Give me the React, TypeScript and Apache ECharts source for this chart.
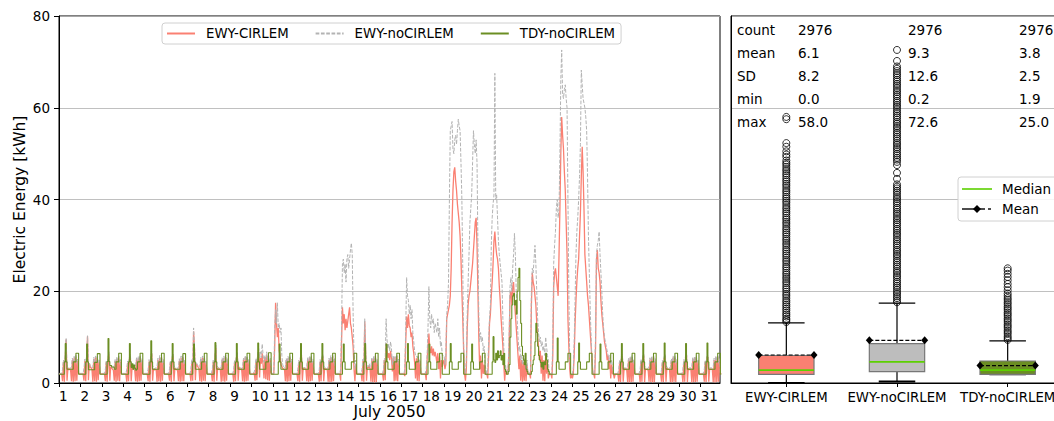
import React, { useEffect, useRef } from "react";
import * as echarts from "echarts";

const dayLabels = ["1","2","3","4","5","6","7","8","9","10","11","12","13","14","15","16","17","18","19","20","21","22","23","24","25","26","27","28","29","30","31"];
const seriesNames = ["EWY-CIRLEM", "EWY-noCIRLEM", "TDY-noCIRLEM"];
const lineColors = ["#FA8072", "#b3b3b3", "#6B8E23"];
const boxColors = ["#FA8072", "#BDBDBD", "#6B8E23"];

// hourly values, one row per day of July 2050 (kWh)
const ewyCirlem: number[][] = [
  [2.0,2.0,2.0,2.0,0.4,4.6,0.3,5.4,9.5,0.5,3.2,2.9,3.1,2.8,0.4,5.0,0.3,5.5,0.4,5.6,0.5,4.8,2.1,2.0],
  [2.0,2.0,2.0,2.0,0.5,4.8,0.4,5.6,10.2,0.6,4.2,3.5,3.3,2.9,0.3,5.2,0.4,5.6,0.3,5.4,0.6,4.6,2.0,2.0],
  [2.0,2.0,2.0,2.0,0.4,4.5,0.3,5.2,6.2,0.5,3.6,3.3,3.0,2.8,0.5,4.8,0.3,5.3,0.5,5.5,0.4,4.7,2.1,2.0],
  [2.0,2.0,2.0,2.0,0.3,4.4,0.4,5.3,5.8,0.4,3.4,3.0,3.2,2.7,0.4,5.1,0.3,5.4,0.4,5.7,0.5,4.9,2.0,2.0],
  [2.0,2.0,2.0,2.0,0.4,4.7,0.3,5.5,6.4,0.5,3.1,2.8,3.0,2.9,0.3,5.0,0.4,5.6,0.3,5.5,0.5,4.8,2.1,2.0],
  [2.0,2.0,2.0,2.0,0.5,4.5,0.3,5.4,6.0,0.4,3.2,3.0,2.9,2.8,0.4,4.9,0.3,5.5,0.4,5.6,0.4,4.7,2.0,2.0],
  [2.0,2.0,2.0,2.0,0.4,4.8,0.5,11.2,7.5,0.6,4.2,3.8,3.5,3.1,0.4,5.2,0.3,5.5,0.5,5.4,0.4,4.6,2.1,2.0],
  [2.0,2.0,2.0,2.0,0.4,4.6,0.3,5.6,7.6,0.5,3.3,3.0,3.1,2.9,0.3,5.1,0.4,5.5,0.3,5.7,0.5,4.9,2.0,2.0],
  [2.0,2.0,2.0,2.0,0.3,4.5,0.4,5.4,6.3,0.5,3.4,3.1,3.0,2.8,0.4,5.0,0.3,5.6,0.4,5.5,0.5,4.8,2.1,2.0],
  [2.0,2.0,2.0,2.2,0.5,4.9,0.6,5.8,6.8,1.2,5.5,4.2,6.5,3.8,1.0,5.6,0.8,6.2,0.6,5.8,0.5,5.0,2.2,2.0],
  [2.0,2.0,8.0,17.5,13.0,10.0,12.0,7.0,6.0,4.0,3.6,3.2,3.0,2.9,0.4,5.0,0.3,5.4,0.4,5.6,0.5,4.8,2.1,2.0],
  [2.0,2.0,2.0,2.0,0.4,4.6,0.3,5.5,6.0,0.5,3.3,3.0,3.1,2.9,0.4,5.1,0.3,5.5,0.4,5.6,0.5,4.8,2.1,2.0],
  [2.0,2.0,2.0,2.0,0.3,4.7,0.4,5.3,5.8,0.4,3.2,3.0,3.0,2.8,0.3,5.0,0.2,5.6,0.3,5.8,0.4,4.9,2.0,2.0],
  [2.0,2.0,2.0,2.0,0.5,9.0,16.5,13.0,15.0,11.5,14.0,12.0,13.5,15.0,16.5,13.0,12.0,10.0,7.9,3.0,0.4,4.0,2.0,2.0],
  [2.0,2.0,2.0,2.0,0.4,4.8,0.3,13.4,6.5,0.5,3.5,3.2,3.8,3.0,0.3,5.2,0.2,5.4,0.1,5.8,0.2,4.9,2.0,2.0],
  [2.0,2.0,2.0,2.0,0.5,5.0,0.6,8.6,7.0,5.5,6.5,5.0,7.0,5.5,2.5,5.5,0.4,5.6,0.5,5.8,0.4,4.8,2.0,2.0],
  [2.0,2.0,2.0,2.0,1.5,9.0,14.5,12.0,15.0,12.5,12.0,10.0,11.0,8.0,6.5,4.4,1.0,5.4,0.5,5.6,0.4,4.8,2.1,2.0],
  [2.0,2.0,2.0,2.0,0.6,5.0,8.0,10.8,7.5,6.5,8.0,6.0,7.5,5.8,6.8,5.7,4.4,6.5,3.0,5.8,1.0,5.0,3.5,4.5],
  [5.0,3.0,4.0,14.0,15.0,16.0,17.0,19.0,25.0,35.0,42.0,46.0,47.0,44.0,42.0,39.0,37.0,35.0,32.0,27.0,20.0,14.0,7.0,2.0],
  [0.5,3.0,12.0,17.0,19.0,20.0,22.0,24.0,26.0,29.0,32.0,35.0,36.0,30.0,20.0,10.0,3.0,6.0,1.0,5.0,2.0,4.0,2.0,2.0],
  [2.0,1.0,6.0,13.0,15.0,19.0,22.0,26.0,31.0,33.0,30.0,28.0,27.0,25.0,21.0,18.0,14.0,11.0,8.0,4.0,0.5,3.0,2.0,2.0],
  [3.0,8.0,19.0,20.0,17.0,21.0,22.0,18.0,15.0,12.0,9.0,6.0,3.0,6.0,0.5,5.0,0.3,4.5,0.5,5.0,0.4,4.0,2.0,2.0],
  [2.0,1.0,17.0,24.0,22.0,21.0,19.0,17.0,13.0,10.0,8.0,5.0,7.0,2.0,6.0,0.5,5.0,0.4,6.0,2.0,5.0,1.0,2.0,2.0],
  [2.0,1.0,6.0,21.0,24.0,25.0,23.0,21.0,19.0,28.0,38.0,50.0,58.0,54.0,51.0,46.0,42.0,35.0,28.0,14.0,8.0,3.0,1.0,2.0],
  [1.0,2.0,6.0,13.0,18.0,22.0,25.0,27.0,32.0,37.0,45.0,51.5,46.0,38.0,28.0,25.0,22.0,19.0,17.0,14.0,11.0,8.0,5.0,2.0],
  [2.0,1.0,8.0,27.0,29.0,25.0,24.0,22.0,18.0,15.0,13.0,11.0,9.0,8.0,7.0,5.0,6.0,3.0,5.0,1.0,4.0,2.0,2.0,1.0],
  [2.0,2.0,2.0,2.0,0.3,4.6,0.2,5.4,5.8,0.3,3.2,2.9,3.1,2.8,0.2,5.0,0.1,5.5,0.2,5.6,0.3,4.8,2.1,2.0],
  [2.0,2.0,2.0,2.0,0.2,4.8,0.3,5.5,6.0,0.2,3.1,3.0,2.9,2.8,0.3,5.1,0.2,5.4,0.1,5.7,0.2,4.9,2.0,2.0],
  [2.0,2.0,2.0,2.0,0.3,4.5,0.2,5.3,5.9,0.3,3.3,3.0,3.0,2.9,0.2,4.9,0.1,5.6,0.3,5.5,0.2,4.7,2.1,2.0],
  [2.0,2.0,2.0,2.0,0.2,4.7,0.3,5.6,6.1,0.2,3.2,2.9,3.1,2.8,0.1,5.2,0.2,5.5,0.2,5.6,0.3,4.8,2.0,2.0],
  [2.0,2.0,2.0,2.0,0.3,4.6,0.2,5.4,5.7,0.3,3.1,3.0,3.0,2.9,0.2,5.0,0.1,5.6,0.2,5.7,0.3,4.9,2.1,2.0],
];

const ewyNoCirlem: number[][] = [
  [2.1,2.1,2.1,2.1,3.0,5.0,4.0,5.8,9.8,3.6,3.4,3.2,3.3,3.2,3.6,5.4,4.4,5.8,4.8,6.0,4.4,5.2,2.3,2.1],
  [2.1,2.1,2.1,2.1,3.1,5.2,4.2,6.0,10.3,3.8,4.5,3.8,3.5,3.3,3.5,5.6,4.5,5.9,4.6,5.8,4.5,5.0,2.2,2.1],
  [2.1,2.1,2.1,2.1,3.0,4.9,4.0,5.6,6.8,3.7,3.9,3.6,3.3,3.1,3.7,5.2,4.3,5.7,4.9,5.9,4.3,5.1,2.3,2.1],
  [2.1,2.1,2.1,2.1,2.9,4.8,4.1,5.7,6.3,3.6,3.7,3.3,3.5,3.0,3.6,5.5,4.4,5.8,4.7,6.1,4.5,5.3,2.2,2.1],
  [2.1,2.1,2.1,2.1,3.0,5.1,4.0,5.9,6.9,3.7,3.4,3.1,3.3,3.2,3.5,5.4,4.5,6.0,4.6,5.9,4.4,5.2,2.3,2.1],
  [2.1,2.1,2.1,2.1,3.1,4.9,4.0,5.8,6.5,3.5,3.5,3.3,3.2,3.1,3.6,5.3,4.3,5.9,4.7,6.0,4.3,5.1,2.2,2.1],
  [2.1,2.1,2.1,2.1,3.0,5.2,4.3,12.0,8.0,3.9,4.5,4.1,3.8,3.4,3.6,5.6,4.4,5.9,4.9,5.8,4.4,5.0,2.3,2.1],
  [2.1,2.1,2.1,2.1,3.0,5.0,4.0,6.0,8.2,3.7,3.6,3.3,3.4,3.2,3.5,5.5,4.5,5.9,4.6,6.1,4.5,5.3,2.2,2.1],
  [2.1,2.1,2.1,2.1,2.9,4.9,4.1,5.8,6.8,3.7,3.7,3.4,3.3,3.1,3.6,5.4,4.3,6.0,4.8,5.9,4.5,5.2,2.3,2.1],
  [2.1,2.1,2.1,2.4,3.2,5.4,4.5,6.5,7.5,5.5,6.8,5.5,8.5,6.0,4.5,6.0,5.0,6.8,5.0,6.4,4.6,5.4,2.4,2.1],
  [2.1,2.1,12.0,16.0,13.0,17.5,12.0,13.0,11.0,12.0,6.0,4.0,3.4,3.2,3.6,5.4,4.4,5.8,4.8,6.0,4.4,5.2,2.3,2.1],
  [2.1,2.1,2.1,2.1,3.0,5.0,4.0,5.9,6.5,3.6,3.6,3.3,3.4,3.2,3.6,5.5,4.4,5.9,4.8,6.0,4.4,5.2,2.3,2.1],
  [2.1,2.1,2.1,2.1,2.9,5.1,4.1,5.7,6.3,3.5,3.5,3.3,3.3,3.1,3.5,5.4,4.3,6.0,4.7,6.2,4.5,5.3,2.2,2.1],
  [2.1,2.1,2.1,2.1,3.0,12.0,26.0,27.0,24.0,26.0,22.0,27.0,28.0,25.0,27.0,29.0,30.5,28.0,15.0,6.0,3.0,5.0,2.3,2.1],
  [2.1,2.1,2.1,2.1,3.0,5.2,4.0,14.0,7.0,3.8,3.8,3.5,4.2,3.4,3.6,5.4,4.4,5.8,4.8,6.0,4.4,5.2,2.3,2.1],
  [2.1,2.1,2.1,2.1,3.0,5.4,5.0,14.0,9.4,7.5,8.5,7.0,9.0,7.5,4.0,6.0,4.4,5.8,4.8,6.0,4.4,5.2,2.3,2.1],
  [2.1,2.1,2.1,2.1,3.0,12.0,23.0,19.0,18.0,15.0,17.0,14.0,16.0,11.0,9.0,7.0,6.0,6.0,5.5,6.0,4.5,5.2,2.3,2.1],
  [2.1,2.1,2.1,2.1,3.0,6.0,12.0,21.0,14.0,12.0,15.0,13.0,14.0,11.0,13.0,12.0,11.0,14.0,10.0,12.0,8.0,9.0,6.0,6.0],
  [6.0,4.0,6.0,15.0,17.0,22.0,40.0,55.0,56.0,57.0,51.0,50.0,53.0,54.0,52.0,55.0,57.5,56.0,55.0,48.0,40.0,25.0,8.0,3.0],
  [2.0,5.0,15.0,22.0,28.0,35.0,38.0,41.0,48.0,55.0,52.0,50.0,53.0,48.0,30.0,15.0,9.0,11.0,9.0,10.0,7.0,8.0,4.0,3.0],
  [2.0,3.0,9.0,14.0,17.0,30.0,36.0,39.0,41.0,67.5,40.0,41.0,36.0,31.0,28.0,26.0,24.0,22.0,14.0,8.0,3.0,4.0,2.0,2.0],
  [4.0,10.0,21.0,23.0,20.0,25.0,28.0,32.6,28.0,20.0,14.0,10.0,7.0,8.0,5.0,6.0,4.0,5.5,4.0,6.0,3.0,5.0,2.5,2.0],
  [2.0,3.0,20.0,25.0,24.0,27.0,30.0,26.0,20.0,14.0,11.0,9.0,10.0,8.0,9.0,7.0,8.0,6.0,10.0,8.0,6.0,5.0,2.0,2.0],
  [2.0,2.0,9.0,26.0,30.0,33.0,38.0,40.0,36.0,38.0,50.0,66.0,72.6,63.0,62.0,64.0,65.0,62.0,60.0,40.0,20.0,5.0,2.0,2.0],
  [2.0,3.0,9.0,18.0,28.0,33.0,36.0,40.0,45.0,52.0,68.2,65.0,62.0,61.0,60.0,58.0,55.0,45.0,32.0,24.0,16.0,10.0,5.0,2.0],
  [2.0,3.0,10.0,28.0,30.0,31.0,33.0,28.0,24.0,20.0,15.0,12.0,10.0,9.0,8.0,7.0,6.0,5.0,6.0,4.0,5.0,3.0,2.0,2.0],
  [2.1,2.1,2.1,2.1,3.0,5.0,4.0,5.8,6.2,3.6,3.4,3.2,3.3,3.2,3.6,5.4,4.4,5.8,4.8,6.0,4.4,5.2,2.3,2.1],
  [2.1,2.1,2.1,2.1,3.1,5.2,4.1,5.9,6.4,3.5,3.5,3.3,3.2,3.2,3.5,5.5,4.3,5.7,4.6,6.1,4.4,5.3,2.2,2.1],
  [2.1,2.1,2.1,2.1,2.9,4.9,4.0,5.7,6.3,3.6,3.6,3.3,3.3,3.2,3.6,5.3,4.4,5.9,4.8,5.9,4.3,5.1,2.3,2.1],
  [2.1,2.1,2.1,2.1,3.0,5.1,4.2,6.0,6.5,3.5,3.5,3.2,3.4,3.1,3.5,5.6,4.5,5.8,4.7,6.0,4.5,5.2,2.2,2.1],
  [2.1,2.1,2.1,2.1,3.0,5.0,4.0,5.8,6.1,3.6,3.4,3.3,3.3,3.2,3.6,5.4,4.4,5.9,4.8,6.1,4.4,5.3,2.3,2.1],
];

const tdyNoCirlem: number[][] = [
  [1.9,1.9,1.9,1.9,1.9,1.9,4.6,8.6,4.6,3.0,3.0,3.0,3.0,3.0,3.0,3.0,4.6,4.6,4.6,6.5,6.5,6.5,1.9,1.9],
  [1.9,1.9,1.9,1.9,1.9,1.9,4.6,8.5,4.6,2.9,2.9,2.9,2.9,2.9,2.9,2.9,4.5,4.5,4.5,6.4,6.4,6.4,1.9,1.9],
  [1.9,1.9,1.9,1.9,1.9,1.9,4.7,9.7,4.7,3.8,3.8,3.5,3.5,3.5,3.0,3.0,4.6,4.6,4.6,6.5,6.5,6.5,1.9,1.9],
  [1.9,1.9,1.9,1.9,1.9,1.9,4.6,8.6,4.6,3.4,4.2,3.0,3.9,3.2,2.8,3.0,4.6,4.6,4.6,6.5,6.5,6.5,1.9,1.9],
  [1.9,1.9,1.9,1.9,1.9,1.9,4.6,9.2,4.6,3.0,3.0,3.0,3.0,3.0,3.0,3.0,4.6,4.6,4.6,6.5,6.5,6.5,1.9,1.9],
  [1.9,1.9,1.9,1.9,1.9,1.9,4.6,8.6,4.6,3.0,3.0,3.0,3.0,3.0,3.0,3.0,4.6,4.6,4.6,6.4,6.4,6.4,1.9,1.9],
  [1.9,1.9,1.9,1.9,1.9,1.9,4.6,8.5,4.6,3.0,3.0,3.0,3.0,3.0,3.0,3.0,4.6,4.6,4.6,6.5,6.5,6.5,1.9,1.9],
  [1.9,1.9,1.9,1.9,1.9,1.9,4.6,8.8,4.6,3.0,3.0,3.0,3.0,3.0,3.0,3.0,4.6,4.6,4.6,6.5,6.5,6.5,1.9,1.9],
  [1.9,1.9,1.9,1.9,1.9,1.9,4.6,8.6,4.6,3.0,3.0,3.0,3.0,3.0,3.0,3.0,4.6,4.6,4.6,6.5,6.5,6.5,1.9,1.9],
  [1.9,1.9,1.9,1.9,1.9,1.9,4.6,8.7,4.6,3.0,3.0,3.0,3.0,3.0,3.0,3.0,4.6,4.6,4.6,6.6,6.6,6.6,1.9,1.9],
  [1.9,1.9,1.9,1.9,1.9,1.9,4.6,8.5,4.6,3.0,3.0,3.0,3.0,3.0,3.0,3.0,4.6,4.6,4.6,6.5,6.5,6.5,1.9,1.9],
  [1.9,1.9,1.9,1.9,1.9,1.9,4.6,8.6,4.6,3.0,3.0,3.0,3.0,3.0,3.0,3.0,4.6,4.6,4.6,6.5,6.5,6.5,1.9,1.9],
  [1.9,1.9,1.9,1.9,1.9,1.9,4.6,8.6,4.6,3.0,3.0,3.0,3.0,3.0,3.0,3.0,4.6,4.6,4.6,6.5,6.5,6.5,1.9,1.9],
  [1.9,1.9,1.9,1.9,1.9,1.9,4.6,8.5,4.6,3.0,3.0,3.0,3.0,3.0,3.0,3.0,4.6,4.6,4.6,6.5,6.5,6.5,1.9,1.9],
  [1.9,1.9,1.9,1.9,1.9,1.9,4.6,8.6,4.6,3.0,3.0,3.0,3.0,3.0,3.0,3.0,4.6,4.6,4.6,6.5,6.5,6.5,1.9,1.9],
  [1.9,1.9,1.9,1.9,1.9,1.9,4.6,8.5,4.6,3.0,3.0,3.0,3.0,3.0,3.0,3.0,4.6,4.6,4.6,6.5,6.5,6.5,1.9,1.9],
  [1.9,1.9,1.9,1.9,1.9,1.9,4.6,8.6,4.6,3.0,3.0,3.0,3.0,3.0,3.0,3.0,4.6,4.6,4.6,6.5,6.5,6.5,1.9,1.9],
  [1.9,1.9,1.9,1.9,1.9,1.9,4.6,8.5,4.6,3.0,3.0,3.0,3.0,3.0,3.0,3.0,4.6,4.6,4.6,6.5,6.5,6.5,1.9,1.9],
  [1.9,1.9,1.9,1.9,1.9,1.9,4.6,8.6,4.6,3.0,3.0,3.0,3.0,3.0,3.0,3.0,4.6,4.6,4.6,6.5,6.5,6.5,1.9,1.9],
  [1.9,1.9,1.9,1.9,1.9,1.9,4.6,8.5,4.6,3.0,3.0,3.0,3.0,3.0,3.0,3.0,4.6,4.6,4.6,6.5,6.5,6.5,1.9,1.9],
  [1.9,1.9,1.9,1.9,1.9,1.9,4.6,10.1,5.0,4.5,6.5,5.0,7.0,5.5,6.0,7.0,5.0,6.0,4.0,6.5,3.0,2.5,1.9,1.9],
  [2.5,4.0,10.0,14.0,17.0,19.0,19.5,17.0,18.0,15.0,20.0,23.0,25.0,18.0,13.0,8.0,6.0,5.0,4.0,6.5,3.0,2.5,1.9,1.9],
  [1.9,1.9,2.5,4.0,5.0,6.0,9.0,13.0,11.0,8.0,6.0,5.0,4.5,3.5,4.5,3.0,4.6,4.0,6.5,5.0,3.0,2.5,1.9,1.9],
  [1.9,1.9,1.9,1.9,1.9,1.9,4.6,9.8,4.6,3.0,3.0,3.0,3.0,3.0,3.0,3.0,4.6,4.6,4.6,6.5,6.5,6.5,1.9,1.9],
  [1.9,1.9,1.9,1.9,1.9,1.9,4.6,8.7,4.6,3.0,3.0,3.0,3.0,3.0,3.0,3.0,4.6,4.6,4.6,6.5,6.5,6.5,1.9,1.9],
  [1.9,1.9,1.9,1.9,1.9,1.9,4.6,8.5,4.6,3.0,3.0,3.0,3.0,3.0,3.0,3.0,4.6,4.6,4.6,6.5,6.5,6.5,1.9,1.9],
  [1.9,1.9,1.9,1.9,1.9,1.9,4.6,8.6,4.6,3.0,3.0,3.0,3.0,3.0,3.0,3.0,4.6,4.6,4.6,6.5,6.5,6.5,1.9,1.9],
  [1.9,1.9,1.9,1.9,1.9,1.9,4.6,8.6,4.6,3.0,3.0,3.0,3.0,3.0,3.0,3.0,4.6,4.6,4.6,6.5,6.5,6.5,1.9,1.9],
  [1.9,1.9,1.9,1.9,1.9,1.9,4.6,8.7,4.6,3.0,3.0,3.0,3.0,3.0,3.0,3.0,4.6,4.6,4.6,6.5,6.5,6.5,1.9,1.9],
  [1.9,1.9,1.9,1.9,1.9,1.9,4.6,8.6,4.6,3.0,3.0,3.0,3.0,3.0,3.0,3.0,4.6,4.6,4.6,6.5,6.5,6.5,1.9,1.9],
  [1.9,1.9,1.9,1.9,1.9,1.9,4.6,8.7,4.6,3.0,3.0,3.0,3.0,3.0,3.0,3.0,4.6,4.6,4.6,6.5,6.5,6.5,1.9,1.9],
];

// box plot statistics
const boxMin = [0.0, 0.3, 1.9];
const boxQ1 = [1.9, 2.5, 1.9];
const boxMedian = [2.8, 4.6, 2.8];
const boxQ3 = [6.0, 8.6, 4.8];
const boxMax = [13.1, 17.4, 9.2];
const boxMean = [6.1, 9.3, 3.8];

const outliersCirlem = [13.3,13.7,14.0,14.5,14.9,15.3,15.8,16.2,16.7,17.1,17.6,18.0,18.5,19.0,19.4,19.9,20.4,20.8,21.3,21.8,22.2,22.7,23.1,23.6,24.0,24.5,25.0,25.4,25.9,26.4,26.8,27.3,27.8,28.2,28.7,29.1,29.6,30.1,30.5,31.0,31.4,31.9,32.4,32.8,33.3,33.7,34.2,34.7,35.1,35.6,36.0,36.5,37.0,37.4,37.9,38.3,38.8,39.3,39.7,40.2,40.6,41.1,41.6,42.0,42.5,43.0,43.4,43.9,44.3,44.8,45.3,45.7,46.2,46.6,47.1,47.6,48.0,48.5,49.3,49.8,50.5,51.5,52.3,57.5,58.0];
const outliersNoCirlem = [17.6,18.0,18.5,18.9,19.4,19.8,20.3,20.8,21.2,21.7,22.1,22.6,23.1,23.5,24.0,24.4,24.9,25.4,25.8,26.3,26.7,27.2,27.7,28.1,28.6,29.0,29.5,30.0,30.4,30.9,31.3,31.8,32.3,32.7,33.2,33.6,34.1,34.6,35.0,35.5,35.9,36.4,36.9,37.3,37.8,38.2,38.7,39.2,39.6,40.1,40.5,41.0,41.5,41.9,42.4,42.8,43.3,44.5,45.8,47.5,48.2,48.7,49.1,49.6,50.0,50.5,51.0,51.4,51.9,52.3,52.8,53.3,53.7,54.2,54.6,55.1,55.6,56.0,56.5,56.9,57.4,57.9,58.3,58.8,59.2,59.7,60.2,60.6,61.1,61.5,62.0,62.5,62.9,63.4,63.8,64.3,64.8,65.2,65.7,66.1,66.6,67.1,67.5,68.0,68.5,69.0,70.2,72.6];
const outliersTdy = [9.4,9.8,10.2,10.7,11.1,11.5,12.0,12.4,12.8,13.3,13.7,14.1,14.6,15.0,15.4,15.9,16.3,16.7,17.2,17.6,18.1,18.5,19.0,19.5,20.2,20.9,21.6,22.4,23.1,23.8,24.5,25.0];

const tableRowLabels = ["count", "mean", "SD", "min", "max"];
const tableValues = [
  ["2976", "2976", "2976"],
  ["6.1", "9.3", "3.8"],
  ["8.2", "12.6", "2.5"],
  ["0.0", "0.2", "1.9"],
  ["58.0", "72.6", "25.0"],
];

const FONT = "DejaVu Sans";

function toPoints(rows: number[][]) {
  const pts: number[][] = [];
  rows.forEach((row, d) => row.forEach((v, h) => pts.push([d + h / 24, v])));
  return pts;
}

export default function App() {
  const ref = useRef<HTMLDivElement>(null);
  useEffect(() => {
    if (!ref.current) return;
    const chart = echarts.init(ref.current, undefined, { renderer: "svg" });
    const boxData = seriesNames.map((_, i) => [i, boxMin[i], boxQ1[i], boxMedian[i], boxQ3[i], boxMax[i], boxMean[i]]);
    const outlierSets = [outliersCirlem, outliersNoCirlem, outliersTdy];

    const tableGraphics: any[] = [];
    tableRowLabels.forEach((lab, r) => {
      const y = 30 + r * 23;
      tableGraphics.push({ type: "text", x: 737, y, style: { text: lab, font: `13.5px '${FONT}'`, fill: "#000", textVerticalAlign: "middle" }, z: 50 });
      [798, 908, 1019].forEach((x, c) => {
        tableGraphics.push({ type: "text", x, y, style: { text: tableValues[r][c], font: `13.5px '${FONT}'`, fill: "#000", textVerticalAlign: "middle" }, z: 50 });
      });
    });

    const option: any = {
      animation: false,
      backgroundColor: "#fff",
      textStyle: { fontFamily: FONT },
      grid: [
        { left: 59, top: 16, width: 661, height: 367, show: true, borderColor: "#000", borderWidth: 1, backgroundColor: "transparent", containLabel: false, outerBoundsMode: "none" },
        { left: 731, top: 16, width: 332, height: 367, show: true, borderColor: "#000", borderWidth: 1, backgroundColor: "transparent", containLabel: false, outerBoundsMode: "none" },
      ],
      legend: {
        data: seriesNames,
        left: 162,
        top: 23,
        itemWidth: 28,
        itemHeight: 14,
        itemGap: 26,
        padding: [4, 6, 4, 4],
        borderColor: "#d0d0d0",
        borderWidth: 1,
        borderRadius: 3,
        backgroundColor: "rgba(255,255,255,0.85)",
        itemStyle: { opacity: 0 },
        textStyle: { fontSize: 13.3, fontFamily: FONT, color: "#000", padding: [0, 0, 0, 6] },
      },
      xAxis: [
        {
          type: "value", gridIndex: 0, min: 0, max: 30.9, interval: 1,
          name: "July 2050", nameLocation: "middle", nameGap: 21, nameMoveOverlap: false,
          nameTextStyle: { fontSize: 15.5, fontFamily: FONT, color: "#000" },
          axisLine: { show: true, lineStyle: { color: "#000" } },
          axisTick: { show: true, length: 4, lineStyle: { color: "#000" } },
          axisLabel: {
            fontSize: 13.5, fontFamily: FONT, color: "#000", align: "left", margin: 6, showMaxLabel: false,
            formatter: (v: number) => (Number.isInteger(v) && dayLabels[v] ? dayLabels[v] : ""),
          },
          splitLine: { show: false },
        },
        {
          type: "category", gridIndex: 1, data: seriesNames, boundaryGap: true,
          axisLine: { show: true, lineStyle: { color: "#000" } },
          axisTick: { show: true, alignWithLabel: true, length: 4, lineStyle: { color: "#000" } },
          axisLabel: { fontSize: 13.3, fontFamily: FONT, color: "#000", margin: 8, interval: 0, hideOverlap: false },
          splitLine: { show: false },
        },
      ],
      yAxis: [
        {
          type: "value", gridIndex: 0, min: 0, max: 80, interval: 20,
          name: "Electric Energy [kWh]", nameLocation: "middle", nameGap: 31, nameMoveOverlap: false,
          nameTextStyle: { fontSize: 15.5, fontFamily: FONT, color: "#000" },
          axisLine: { show: true, lineStyle: { color: "#000" } },
          axisTick: { show: true, length: 5, lineStyle: { color: "#000" } },
          axisLabel: { fontSize: 13.5, fontFamily: FONT, color: "#000", margin: 9 },
          splitLine: { show: true, lineStyle: { color: "#b0b0b0", width: 0.8 } },
        },
        {
          type: "value", gridIndex: 1, min: 0, max: 80, interval: 20,
          axisLine: { show: true, lineStyle: { color: "#000" } },
          axisTick: { show: false },
          axisLabel: { show: false },
          splitLine: { show: true, lineStyle: { color: "#b0b0b0", width: 0.8 } },
        },
      ],
      series: [
        {
          name: seriesNames[0], type: "line", xAxisIndex: 0, yAxisIndex: 0, symbol: "none",
          data: toPoints(ewyCirlem), lineStyle: { color: lineColors[0], width: 1.3 }, itemStyle: { color: lineColors[0] }, z: 2,
        },
        {
          name: seriesNames[1], type: "line", xAxisIndex: 0, yAxisIndex: 0, symbol: "none",
          data: toPoints(ewyNoCirlem), lineStyle: { color: lineColors[1], width: 1, type: [3.7, 1.6] }, itemStyle: { color: lineColors[1] }, z: 3,
        },
        {
          name: seriesNames[2], type: "line", xAxisIndex: 0, yAxisIndex: 0, symbol: "none", step: "end",
          data: toPoints(tdyNoCirlem), lineStyle: { color: lineColors[2], width: 1.1 }, itemStyle: { color: lineColors[2] }, z: 4,
        },
        {
          type: "custom", xAxisIndex: 1, yAxisIndex: 1, z: 5,
          data: boxData,
          encode: { x: 0, y: [1, 2, 3, 4, 5, 6] },
          renderItem: (params: any, api: any) => {
            const i = api.value(0);
            const band = api.size([1, 0])[0];
            const cx = api.coord([i, 0])[0];
            const bw = band * 0.5;
            const cw = band * 0.33;
            const y = (v: number) => api.coord([i, v])[1];
            const vmin = api.value(1), q1 = api.value(2), med = api.value(3), q3 = api.value(4), vmax = api.value(5), mean = api.value(6);
            const black = { stroke: "#000", lineWidth: 1.2 };
            const diamond = (x: number, yy: number) => ({
              type: "polygon",
              shape: { points: [[x, yy - 4], [x + 3.5, yy], [x, yy + 4], [x - 3.5, yy]] },
              style: { fill: "#000" },
            });
            return {
              type: "group",
              children: [
                { type: "line", shape: { x1: cx, y1: y(q3), x2: cx, y2: y(vmax) }, style: black },
                { type: "line", shape: { x1: cx, y1: y(q1), x2: cx, y2: y(vmin) }, style: black },
                { type: "line", shape: { x1: cx - cw / 2, y1: y(vmax), x2: cx + cw / 2, y2: y(vmax) }, style: black },
                { type: "line", shape: { x1: cx - cw / 2, y1: y(vmin), x2: cx + cw / 2, y2: y(vmin) }, style: { stroke: "#000", lineWidth: 2 } },
                { type: "rect", shape: { x: cx - bw / 2, y: y(q3), width: bw, height: y(q1) - y(q3) }, style: { fill: boxColors[i], stroke: "#777", lineWidth: 1.2 } },
                { type: "line", shape: { x1: cx - bw / 2, y1: y(med), x2: cx + bw / 2, y2: y(med) }, style: { stroke: "#5CD000", lineWidth: 1.6 } },
                { type: "line", shape: { x1: cx - bw / 2, y1: y(mean), x2: cx + bw / 2, y2: y(mean) }, style: { stroke: "#000", lineWidth: 1.2, lineDash: [4, 2] } },
                diamond(cx - bw / 2, y(mean)),
                diamond(cx + bw / 2, y(mean)),
              ],
            };
          },
        },
        ...outlierSets.map((set, i) => ({
          type: "scatter", xAxisIndex: 1, yAxisIndex: 1, z: 6,
          symbol: "circle", symbolSize: 7,
          itemStyle: { color: "rgba(0,0,0,0)", borderColor: "#000", borderWidth: 1 },
          data: set.map((v) => [i, v]),
        })),
      ],
      graphic: [
        ...tableGraphics,
        { type: "rect", shape: { x: 958, y: 177, width: 120, height: 44, r: 3 }, style: { fill: "rgba(255,255,255,0.85)", stroke: "#d0d0d0", lineWidth: 1 }, z: 60 },
        { type: "line", shape: { x1: 962, y1: 189, x2: 992, y2: 189 }, style: { stroke: "#5CD000", lineWidth: 1.6 }, z: 61 },
        { type: "line", shape: { x1: 962, y1: 209, x2: 985, y2: 209 }, style: { stroke: "#000", lineWidth: 1.4 }, z: 61 },
        { type: "line", shape: { x1: 988, y1: 209, x2: 991, y2: 209 }, style: { stroke: "#000", lineWidth: 1.4 }, z: 61 },
        { type: "polygon", shape: { points: [[977, 205], [981, 209], [977, 213], [973, 209]] }, style: { fill: "#000" }, z: 62 },
        { type: "text", x: 1002, y: 189, style: { text: "Median", font: `13.5px '${FONT}'`, fill: "#000", textVerticalAlign: "middle" }, z: 62 },
        { type: "text", x: 1002, y: 209, style: { text: "Mean", font: `13.5px '${FONT}'`, fill: "#000", textVerticalAlign: "middle" }, z: 62 },
      ],
    };
    chart.setOption(option);
    return () => chart.dispose();
  }, []);
  return <div ref={ref} style={{ position: "absolute", left: 0, top: 0, width: 1054, height: 421 }} />;
}
